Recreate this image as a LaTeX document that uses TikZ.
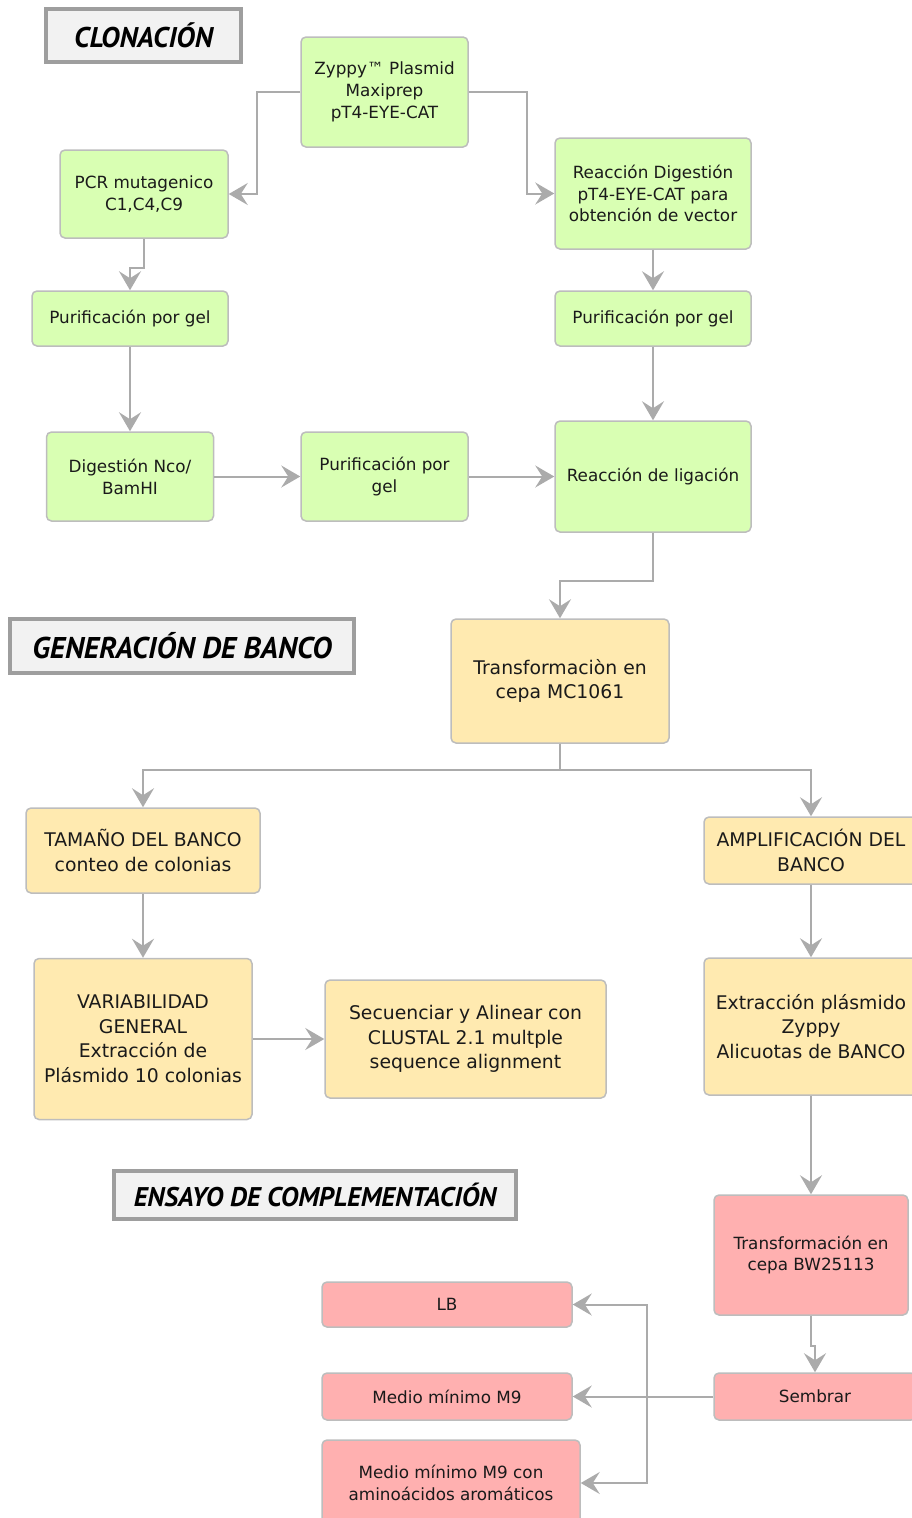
\documentclass[tikz,border=0pt]{standalone}
\usepackage{fontspec}
\setmainfont{DejaVu Sans}
\newfontfamily\titlefont{PT Sans}
\usetikzlibrary{arrows.meta, positioning}

\definecolor{boxgreen}{HTML}{D9FFB3}
\definecolor{boxyellow}{HTML}{FFEAB0}
\definecolor{boxred}{HTML}{FFB0B0}
\definecolor{linegray}{HTML}{ABABAB}
\definecolor{bordergray}{HTML}{BDBDBD}
\definecolor{titlefill}{HTML}{F2F2F2}
\definecolor{titleborder}{HTML}{9E9E9E}
\definecolor{textdark}{HTML}{1A1A1A}

\begin{document}
\begin{tikzpicture}[x=1pt,y=-1pt,>={Stealth[length=19pt,width=22pt,inset=7pt]},
    flow/.style={->,draw=linegray,line width=2pt},
    base node/.style={rectangle,rounded corners=5pt,draw=bordergray,line width=1.5pt,align=center,text=textdark,inner sep=2pt,font=\fontsize{16.8}{21.8}\selectfont},
    green node/.style={base node,fill=boxgreen},
    yellow node/.style={base node,fill=boxyellow,font=\fontsize{18.8}{24.5}\selectfont},
    red node/.style={base node,fill=boxred},
    title node/.style={rectangle,draw=titleborder,line width=3.5pt,fill=titlefill,text=black,font=\titlefont\fontsize{28.5}{32}\selectfont\bfseries\itshape}]

\clip (0,0) rectangle (912,1518);

% titulos
\node[title node, minimum width=195pt, minimum height=53pt] (TCLON) at (143.5,35.5) {CLONACIÓN};
\node[title node, minimum width=344pt, minimum height=54pt, font=\titlefont\fontsize{30}{34}\selectfont\bfseries\itshape] (TGEN) at (182,646) {GENERACIÓN DE BANCO};
\node[title node, minimum width=402pt, minimum height=48pt, font=\titlefont\fontsize{27}{30}\selectfont\bfseries\itshape] (TENS) at (315,1195) {ENSAYO DE COMPLEMENTACIÓN};

% clonacion
\node[green node, minimum width=167pt, minimum height=110pt] (ZYPPY) at (384.5,92) {Zyppy™ Plasmid\\Maxiprep\\pT4-EYE-CAT};
\node[green node, minimum width=168pt, minimum height=88pt] (PCR) at (144,194) {PCR mutagenico\\C1,C4,C9};
\node[green node, minimum width=196pt, minimum height=111pt] (RDIG) at (653,193.5) {Reacción Digestión\\pT4-EYE-CAT para\\obtención de vector};
\node[green node, minimum width=196pt, minimum height=55pt] (PGELL) at (130,318.5) {Purificación por gel};
\node[green node, minimum width=196pt, minimum height=55pt] (PGELR) at (653,318.5) {Purificación por gel};
\node[green node, minimum width=167pt, minimum height=89pt] (DNCO) at (130,476.5) {Digestión Nco/\\BamHI};
\node[green node, minimum width=167pt, minimum height=89pt] (PGELM) at (384.5,476.5) {Purificación por\\gel};
\node[green node, minimum width=196pt, minimum height=111pt] (LIG) at (653,476.5) {Reacción de ligación};

% generacion de banco
\node[yellow node, minimum width=218pt, minimum height=124pt] (TMC) at (560,681) {Transformaciòn en\\cepa MC1061};
\node[yellow node, minimum width=234pt, minimum height=85pt] (TAM) at (143,850.5) {TAMAÑO DEL BANCO\\conteo de colonias};
\node[yellow node, minimum width=214pt, minimum height=67pt] (AMP) at (811,850.5) {AMPLIFICACIÓN DEL\\BANCO};
\node[yellow node, minimum width=218pt, minimum height=161pt] (VAR) at (143,1039) {VARIABILIDAD\\GENERAL\\Extracción de\\Plásmido 10 colonias};
\node[yellow node, minimum width=281pt, minimum height=118pt] (SEC) at (465.5,1039) {Secuenciar y Alinear con\\CLUSTAL 2.1 multple\\sequence alignment};
\node[yellow node, minimum width=214pt, minimum height=137pt] (EXT) at (811,1026.5) {Extracción plásmido\\Zyppy\\Alicuotas de BANCO};

% ensayo de complementacion
\node[red node, minimum width=194pt, minimum height=120pt] (TBW) at (811,1255) {Transformación en\\cepa BW25113};
\node[red node, minimum width=202pt, minimum height=47pt] (SEM) at (815,1396.5) {Sembrar};
\node[red node, minimum width=250pt, minimum height=45pt] (LB) at (447,1304.5) {LB};
\node[red node, minimum width=250pt, minimum height=47pt] (M9) at (447,1396.5) {Medio mínimo M9};
\node[red node, minimum width=258pt, minimum height=86pt] (M9A) at (451,1483) {Medio mínimo M9 con\\aminoácidos aromáticos};
\coordinate (SPLIT) at (647,1396.5);

% conectores
\draw[flow] (ZYPPY.west) -- ++(-43,0) |- (PCR.east);
\draw[flow] (ZYPPY.east) -- ++(58,0) |- (RDIG.west);
\draw[flow] (PCR.south) -- ++(0,29) -| (PGELL.north);
\draw[flow] (RDIG) -- (PGELR);
\draw[flow] (PGELL) -- (DNCO);
\draw[flow] (PGELR) -- (LIG);
\draw[flow] (DNCO) -- (PGELM);
\draw[flow] (PGELM) -- (LIG);
\draw[flow] (LIG.south) -- ++(0,48) -| (TMC.north);
\draw[flow] (TMC.south) -- ++(0,26) -| (TAM.north);
\draw[flow] (TMC.south) -- ++(0,26) -| (AMP.north);
\draw[flow] (TAM) -- (VAR);
\draw[flow] (VAR) -- (SEC);
\draw[flow] (AMP) -- (EXT);
\draw[flow] (EXT) -- (TBW);
\draw[flow] (TBW.south) -- ++(0,30) -| (SEM.north);
\draw[flow] (SEM) -- (M9);
\draw[flow] (SPLIT) |- (LB.east);
\draw[flow] (SPLIT) |- (M9A.east);

\end{tikzpicture}
\end{document}
